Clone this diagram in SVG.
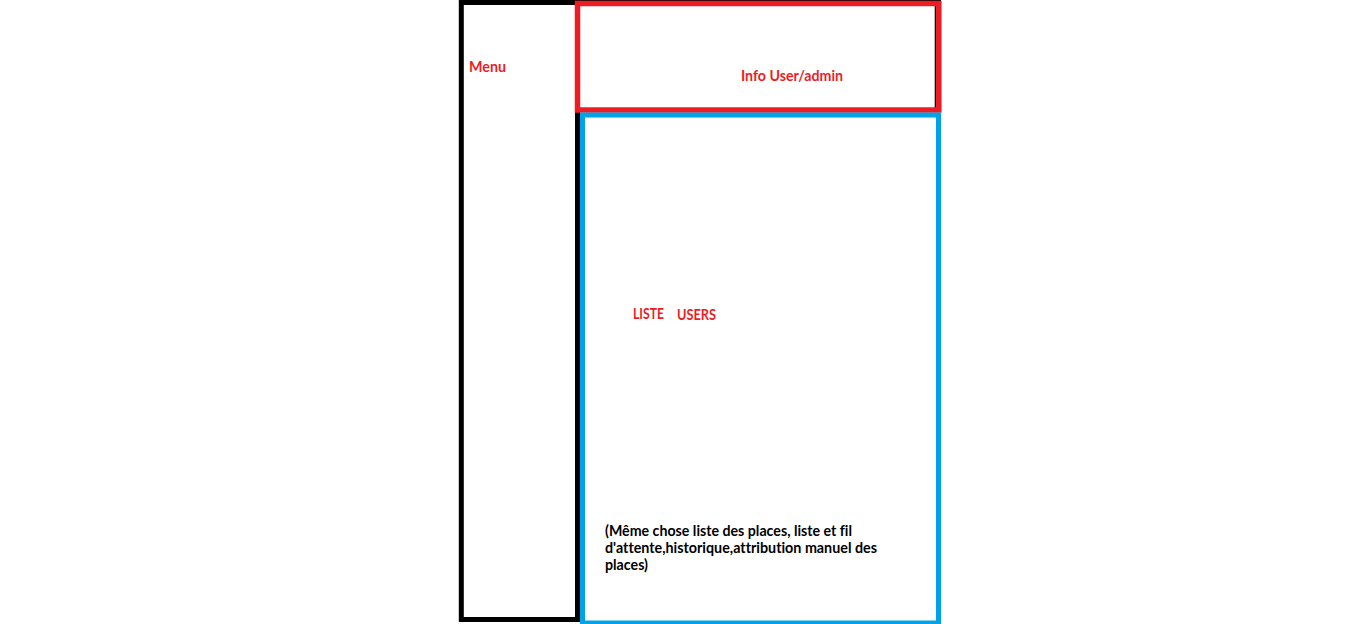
<svg xmlns="http://www.w3.org/2000/svg" width="1360" height="624" viewBox="0 0 1360 624">
<style>
.t{font-family:Lato,"Liberation Sans",sans-serif;font-weight:bold;font-size:15px;font-variant-ligatures:none}
.red{fill:#ED1C24}
.blk{fill:#000}
</style>
<rect width="1360" height="624" fill="#fff"/>
<g id="menu">
<path d="M578 0.8H941M935.5 0V110" stroke="#000" stroke-width="1.6" fill="none"/>
<rect x="461.3" y="2.5" width="116.2" height="617" fill="none" stroke="#000" stroke-width="5"/>
<text class="t red" x="469" y="71.5" textLength="37" lengthAdjust="spacingAndGlyphs">Menu</text>
</g>
<g id="info">
<rect x="577.5" y="3.5" width="361.3" height="106.5" fill="none" stroke="#ED1C24" stroke-width="5.5"/>
<text class="t red" x="741" y="81" textLength="102" lengthAdjust="spacingAndGlyphs">Info User/admin</text>
</g>
<g id="liste">
<rect x="582.5" y="115" width="356" height="508" fill="none" stroke="#00A2E8" stroke-width="5"/>
<text class="t red" x="633" y="319" textLength="31" lengthAdjust="spacingAndGlyphs">LISTE</text>
<text class="t red" x="677" y="320" textLength="39" lengthAdjust="spacingAndGlyphs">USERS</text>
<text class="t blk" x="605" y="535.5" textLength="247" lengthAdjust="spacingAndGlyphs">(Même chose liste des places, liste et fil</text>
<text class="t blk" x="605" y="553" textLength="272" lengthAdjust="spacingAndGlyphs">d'attente,historique,attribution manuel des</text>
<text class="t blk" x="605" y="569.5" textLength="43" lengthAdjust="spacingAndGlyphs">places)</text>
</g>
<g id="connectors"/>
</svg>
